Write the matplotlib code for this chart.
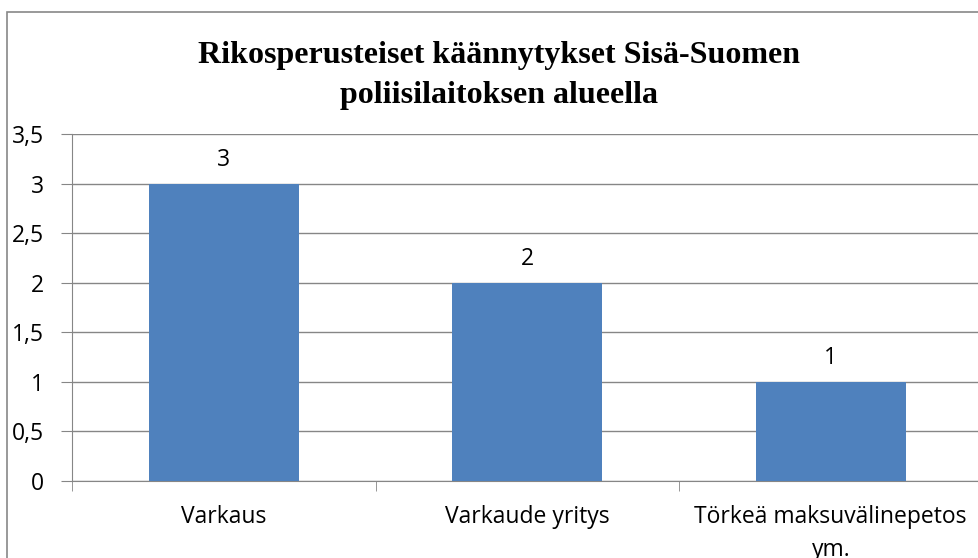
import matplotlib
matplotlib.use("Agg")
import matplotlib.pyplot as plt
from matplotlib.patches import Rectangle
from matplotlib.ticker import FuncFormatter, MultipleLocator

categories = ["Varkaus", "Varkaude yritys", "Törkeä maksuvälinepetos\nym."]
values = [3, 2, 1]
title = "Rikosperusteiset käännytykset Sisä-Suomen\npoliisilaitoksen alueella"

W, H = 979, 558
fig = plt.figure(figsize=(W / 100, H / 100), dpi=100)

# outer chart border (partly cut off on right/bottom)
fig.patches.append(Rectangle((7 / W, -0.1), 1.2, (H - 12) / H + 0.1, transform=fig.transFigure,
                             fill=False, edgecolor="#888888", linewidth=1.2))

ax = fig.add_axes([72 / W, 77 / H, (982.5 - 72) / W, 347 / H])
x = list(range(len(categories)))
bars = ax.bar(x, values, width=0.495, color="#4F81BD", zorder=3)
ax.set_xlim(-0.5, len(categories) - 0.5)
ax.set_ylim(0, 3.5)
ax.yaxis.set_major_locator(MultipleLocator(0.5))
ax.yaxis.set_major_formatter(FuncFormatter(lambda v, p: ("%g" % v).replace(".", ",")))
ax.grid(axis="y", color="#868686", linewidth=1.0, zorder=0)
for s in ["top", "right"]:
    ax.spines[s].set_visible(False)
for s in ["left", "bottom"]:
    ax.spines[s].set_color("#868686")
fs = 16.5
ax.tick_params(axis="y", length=8, color="#868686", labelsize=fs, pad=12)
ax.set_xticks(x)
ax.set_xticklabels(categories, fontsize=fs, linespacing=1.5)
ax.tick_params(axis="x", length=0, pad=17)
ax.set_xticks([-0.5, 0.5, 1.5, 2.5], minor=True)
ax.tick_params(axis="x", which="minor", length=7, color="#868686")
for lab in ax.get_xticklabels() + ax.get_yticklabels():
    lab.set_fontfamily("Open Sans")

for b, v in zip(bars, values):
    ax.annotate(str(v), (b.get_x() + b.get_width() / 2, v), xytext=(0, 17),
                textcoords="offset points", ha="center", va="center",
                fontsize=fs, family="Open Sans")

fig.text(499 / W, 1 - 76 / H, title, ha="center", va="center", fontsize=23,
         fontweight="bold", family="Liberation Serif", linespacing=1.5)

fig.savefig("out.png", dpi=100)
